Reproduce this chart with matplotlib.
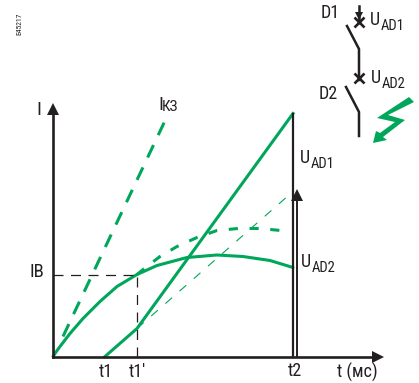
import matplotlib
matplotlib.use("Agg")
import matplotlib.pyplot as plt
from matplotlib.patches import Polygon

plt.rcParams['font.family'] = ['Roboto Condensed', 'Liberation Sans', 'DejaVu Sans']

GREEN = '#00A65A'
BLACK = '#231F20'

# curves, measured from the origin of the graph (in picture pixels)
ik3_t = [10, 114]
ik3_i = [20, 240]
load_t = [0, 3, 7, 17, 30, 47, 64, 84, 104, 134, 164, 190, 217, 240]
load_i = [0, 4.5, 10, 23, 38, 55, 70, 82, 91, 99, 101.5, 100, 96, 89]
upper_t = [84, 92, 107, 124, 144, 164, 185, 207, 233]
upper_i = [82, 88.5, 100, 110, 119, 126, 128, 128, 125.5]
ad1_t = [52, 84, 240]
ad1_i = [0, 28, 243]
ad2_t = [84, 240]
ad2_i = [28, 165]
ib_level = 82
t1 = 52
t1p = 84
t2 = 240
t_end = 325
i_end = 248
t2_arrow = 162

# schematic, in picture pixels
d1_wire = ([359, 359], [6, 20])
d1_blade = ([347, 359, 359], [26, 49, 80])
d2_blade = ([346, 359, 359], [87, 112, 136])
breaks_x = [359, 359]
breaks_y = [22, 78]
bolt_x = [409, 377, 395, 380, 376, 373, 387, 383, 405, 388, 414]
bolt_y = [97, 118, 122, 133, 131, 143, 140, 137, 120, 115, 102]

fig = plt.figure(figsize=(4.19, 3.83), dpi=100)
ax = fig.add_axes([0, 0, 1, 1])
ax.set_xlim(-53, 366)
ax.set_ylim(-26.5, 356.5)
ax.axis('off')

ax.plot(ik3_t, ik3_i, color=GREEN, lw=2.2, dashes=(4.5, 3.6))
ax.plot(load_t, load_i, color=GREEN, lw=2.2, solid_capstyle='round')
ax.plot(upper_t, upper_i, color=GREEN, lw=2.2, dashes=(3, 3.8))
ax.plot(ad1_t, ad1_i, color=GREEN, lw=2.2)
ax.plot(ad2_t, ad2_i, color=GREEN, lw=0.8, dashes=(8, 9))

ax.plot([0, t1p], [ib_level, ib_level], color=BLACK, lw=0.9, dashes=(8, 6))
ax.plot([t1p, t1p], [0, ib_level], color=BLACK, lw=0.9, dashes=(8, 6))

ax.plot([0, t_end], [0, 0], color=BLACK, lw=1.9)
ax.plot([0, 0], [0, i_end], color=BLACK, lw=1.9)
ax.plot([t2, t2], [0, 243], color=BLACK, lw=1.6)
ax.plot([t2 + 3.5, t2 + 3.5], [0, t2_arrow], color=BLACK, lw=1.4)
ax.plot([t_end], [0], marker='>', ms=8, color=BLACK, mew=0)
ax.plot([0], [i_end], marker='^', ms=8.5, color=BLACK, mew=0)
ax.plot([t2 + 3.5], [t2_arrow], marker='^', ms=8, color=BLACK, mew=0)

# same picture, pixel coordinates, for labels and the little diagram
top = fig.add_axes([0, 0, 1, 1])
top.set_xlim(0, 419)
top.set_ylim(383, 0)
top.axis('off')
top.patch.set_alpha(0)

top.plot(*d1_wire, color=BLACK, lw=1.8)
top.plot(*d1_blade, color=BLACK, lw=1.8)
top.plot(*d2_blade, color=BLACK, lw=1.8)
top.plot(breaks_x, breaks_y, ls='', marker='x', ms=6.5, mew=1.9, color=BLACK)
top.plot([359], [16], marker='v', ms=5.5, color=BLACK, mew=0)
top.add_patch(Polygon(list(zip(bolt_x, bolt_y)), closed=True, fc=GREEN, ec='none'))


def label(x, y, s, size=13, **kw):
    top.text(x, y, s, fontsize=size, color=BLACK, ha='left', va='center', **kw)


def u_label(x, y, sub):
    label(x, y, 'U')
    label(x + 10.5, y + 6, sub, size=10.5)


label(321, 13, 'D1')
label(319, 94, 'D2')
u_label(370, 20, 'AD1')
u_label(371, 78, 'AD2')
u_label(300, 158, 'AD1')
u_label(301, 262, 'AD2')
label(36, 110, 'I', size=14)
label(158, 105, 'I', size=14)
label(162, 107, 'КЗ', size=11)
label(29, 272, 'IB', size=13.5)
label(99, 372, 't1')
label(129, 372, "t1'")
label(288, 371, 't2')
label(337, 372, 't (мс)')
top.text(19, 24, 'E45217', fontsize=5.5, color=BLACK, rotation=90, ha='center', va='center')

fig.savefig('out.png', dpi=100)
